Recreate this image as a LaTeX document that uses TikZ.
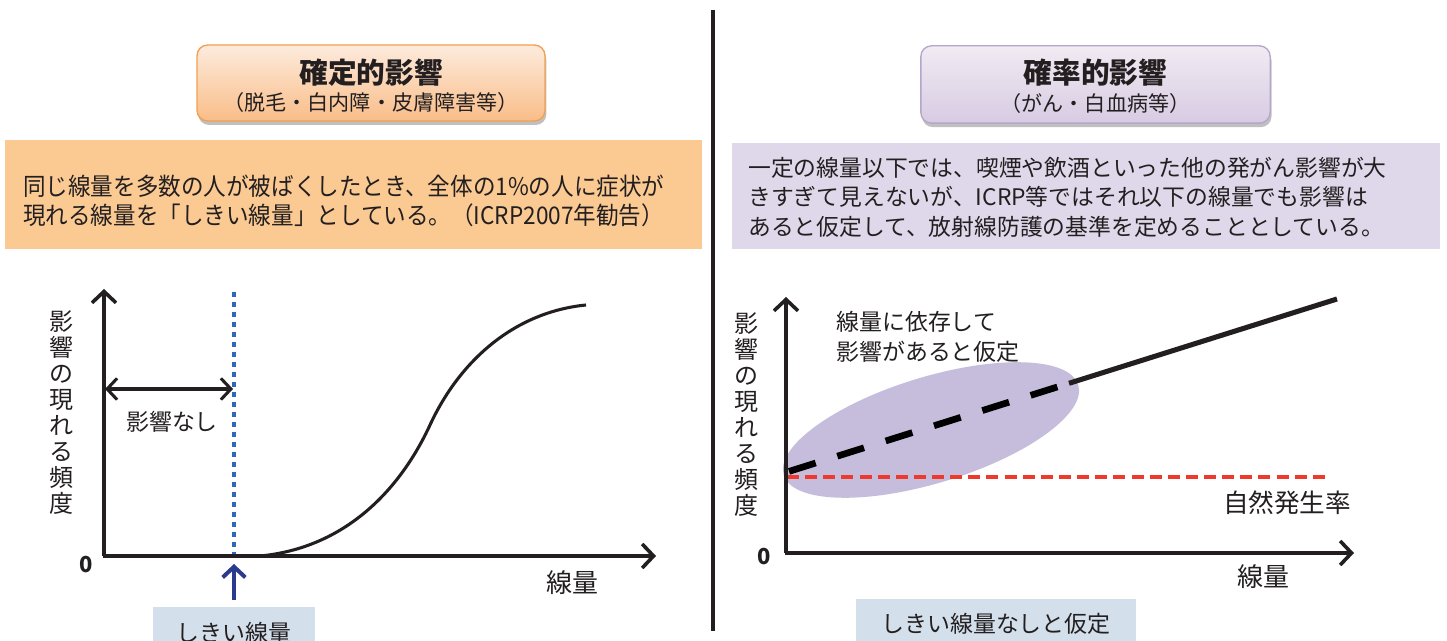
\documentclass[tikz,border=0pt]{standalone}
\usepackage{fontspec}
\setmainfont{Noto Sans CJK JP}
\newfontfamily\condjp[FakeStretch=0.93]{Noto Sans CJK JP}
\usetikzlibrary{arrows.meta,shadows,calc}
\definecolor{ink}{HTML}{231F20}
\definecolor{orTop}{HTML}{FDEBDD}
\definecolor{orBot}{HTML}{F9BD88}
\definecolor{orBorder}{HTML}{F2A050}
\definecolor{orFill}{HTML}{FBCA93}
\definecolor{puTop}{HTML}{F1EBF3}
\definecolor{puBot}{HTML}{D7CBE2}
\definecolor{puBorder}{HTML}{B4A5CA}
\definecolor{puFill}{HTML}{DFD8EA}
\definecolor{ellFill}{HTML}{C6BDDD}
\definecolor{blueDot}{HTML}{2F68B8}
\definecolor{blueArrow}{HTML}{2A3A8F}
\definecolor{redDash}{HTML}{EE3A2C}
\definecolor{noteFill}{HTML}{D3DFEB}
\tikzset{
  titlebox/.style={draw, line width=1pt, rounded corners=8pt, inner sep=0pt,
    minimum width=261pt, minimum height=57pt,
    drop shadow={shadow xshift=1pt, shadow yshift=-3pt, opacity=0.35, fill=black!70}},
  titleL/.style={titlebox, draw=orBorder, top color=orTop, bottom color=orBot},
  titleR/.style={titlebox, draw=puBorder, top color=puTop, bottom color=puBot},
  titletext/.style={text=ink, font=\bfseries\fontsize{21.5}{24}\selectfont, inner sep=0pt},
  subtext/.style={text=ink, font=\fontsize{15.8}{17}\selectfont, inner sep=0pt},
  bodytext/.style={text=ink, inner sep=0pt, align=left, anchor=west},
  lbl/.style={text=ink, inner sep=0pt, font=\fontsize{17.2}{22.5}\selectfont},
  vlbl/.style={text=ink, inner sep=0pt, align=center, font=\fontsize{18}{19.5}\selectfont},
  zero/.style={text=ink, inner sep=0pt, font=\bfseries\fontsize{16.5}{18}\selectfont},
  axis/.style={draw=ink, line width=3.3pt, -{Straight Barb[length=8.5pt,width=18pt,line width=2.7pt]}},
  barb/.style={{Straight Barb[length=7.5pt,width=16pt,line width=2.3pt]}-{Straight Barb[length=7.5pt,width=16pt,line width=2.3pt]}},
}
\begin{document}
\begin{tikzpicture}[x=0.75pt,y=-0.75pt]
\useasboundingbox (0,0) rectangle (1447,641);
\fill[white] (0,0) rectangle (1447,641);

% ---------- left half ----------
\node[titleL] (tL) at (371,83) {};
\node[titletext] (tL1) at (371,73) {確定的影響};
\node[subtext] (tL2) at (371,102) {（脱毛・白内障・皮膚障害等）};

\node[fill=orFill, minimum width=522.75pt, minimum height=81.75pt, inner sep=0pt] (bL) at (353.5,194.5) {};
\node[bodytext, font=\condjp\fontsize{18.2}{21.75}\selectfont] (bLt) at (23,200.5)
  {同じ線量を多数の人が被ばくしたとき、全体の1\%の人に症状が\\現れる線量を「しきい線量」としている。（ICRP2007年勧告）};

\coordinate (O1) at (104,556);
\coordinate (O1b) at (102.5,556);
\coordinate (Y1) at (104,289);
\coordinate (X1) at (656,556);
\coordinate (T0) at (234,292);
\coordinate (T1) at (234,556);
\coordinate (DA) at (105,389);
\coordinate (DB) at (233,389);
\coordinate (UA) at (234,600);
\coordinate (UB) at (234,564);

\draw[blueDot, line width=3pt, dash pattern=on 3.4pt off 4.1pt] (T0) -- (T1);
\draw[ink, line width=2.3pt] (260,556) .. controls (345,548) and (400,490) .. (430,425)
  .. controls (460,360) and (515,312) .. (586,305);
\draw[axis] (O1) -- (Y1);
\draw[axis] (O1b) -- (X1);
\draw[ink, line width=2.3pt, barb] (DA) -- (DB);
\draw[blueArrow, line width=3pt, -{Straight Barb[length=8pt,width=17pt,line width=3pt]}] (UA) -- (UB);

\node[vlbl] (vL) at (62,413) {影\\響\\の\\現\\れ\\る\\頻\\度};
\node[lbl] (nL) at (172,422) {影響なし};
\node[zero] (zL) at (86,565) {0};
\node[lbl, font=\fontsize{19.5}{22}\selectfont] (xL) at (572,583) {線量};

\fill[noteFill] (153,607) rectangle (315,660);
\node[lbl] (sL) at (234,633) {しきい線量};

% ---------- divider ----------
\coordinate (D0) at (713,10);
\coordinate (D1) at (713,631);
\draw[ink, line width=2.6pt] (D0) -- (D1);

% ---------- right half ----------
\node[titleR, minimum width=262pt, minimum height=58pt] (tR) at (1095.5,84.5) {};
\node[titletext] (tR1) at (1095.5,73) {確率的影響};
\node[subtext] (tR2) at (1095.5,103) {（がん・白血病等）};

\node[fill=puFill, minimum width=531pt, minimum height=79.5pt, inner sep=0pt] (bR) at (1086,196) {};
\node[bodytext, font=\fontsize{17.1}{22.1}\selectfont] (bRt) at (748,197)
  {一定の線量以下では、喫煙や飲酒といった他の発がん影響が大\\きすぎて見えないが、ICRP等ではそれ以下の線量でも影響は\\あると仮定して、放射線防護の基準を定めることとしている。};

\fill[ellFill] (931,430) ellipse [x radius=154, y radius=53, rotate=17];

\coordinate (O2) at (786,553);
\coordinate (O2b) at (784.5,553);
\coordinate (Y2) at (786,297);
\coordinate (X2) at (1354,553);
\coordinate (R0) at (787,477);
\coordinate (R1) at (1330,477);
\coordinate (B0) at (789,471.4);
\coordinate (B1) at (1069,383.3);
\coordinate (B2) at (1337,299);

\draw[redDash, line width=2.7pt, dash pattern=on 9pt off 4.6pt] (R0) -- (R1);
\draw[black, line width=5pt, dash pattern=on 21pt off 17pt] (B0) -- (B1);
\draw[ink, line width=3.8pt] (B1) -- (B2);
\draw[axis] (O2) -- (Y2);
\draw[axis] (O2b) -- (X2);

\node[vlbl] (vR) at (746,415) {影\\響\\の\\現\\れ\\る\\頻\\度};
\node[lbl, align=left, anchor=west] (aR) at (836,337) {線量に依存して\\影響があると仮定};
\node[lbl, font=\fontsize{19.2}{22}\selectfont] (nR) at (1287,503) {自然発生率};
\node[zero] (zR) at (764,557) {0};
\node[lbl, font=\fontsize{19.5}{22}\selectfont] (xR) at (1263,577) {線量};

\fill[noteFill] (856,599) rectangle (1136,660);
\node[lbl] (sR) at (996,624) {しきい線量なしと仮定};
\end{tikzpicture}
\end{document}
